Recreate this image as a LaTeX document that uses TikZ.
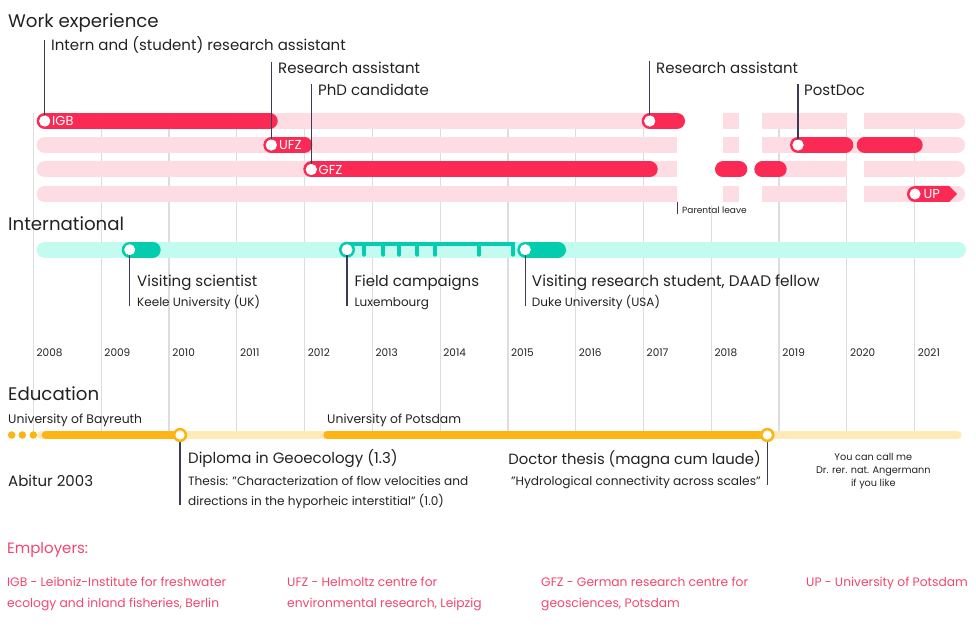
\documentclass[tikz,border=0pt]{standalone}
\usepackage{fontspec}
\setmainfont{Poppins}
\definecolor{wkdark}{RGB}{251,42,85}
\definecolor{wklight}{RGB}{253,221,227}
\definecolor{intdark}{RGB}{4,204,174}
\definecolor{intlight}{RGB}{196,251,240}
\definecolor{edudark}{RGB}{253,181,21}
\definecolor{edulight}{RGB}{255,235,184}
\definecolor{gridc}{RGB}{221,221,221}
\definecolor{tickc}{RGB}{60,59,86}
\definecolor{txt}{RGB}{34,34,34}
\definecolor{footc}{RGB}{242,70,110}
\begin{document}
\begin{tikzpicture}[x=1pt,y=-1pt,
  gridline/.style={draw=gridc,line width=1.2pt},
  wbar/.style={line width=16pt,line cap=round},
  ebar/.style={line width=8pt,line cap=round},
  tickline/.style={draw=tickc,line width=1.3pt},
  title/.style={anchor=base west,inner sep=0,text=txt,font=\fontsize{18.2}{21}\selectfont},
  lab/.style={anchor=base west,inner sep=0,text=txt,font=\fontsize{15}{17}\selectfont},
  sublab/.style={anchor=base west,inner sep=0,text=txt,font=\fontsize{12}{14}\selectfont},
  yearlab/.style={anchor=base west,inner sep=0,text=txt,font=\fontsize{10.5}{12}\selectfont},
  inlab/.style={anchor=base west,inner sep=0,text=white,font=\fontsize{13}{15}\selectfont},
  footlab/.style={anchor=base west,inner sep=0,text=footc,font=\fontsize{12.3}{14}\selectfont},
  dot/.style={circle,fill=white,inner sep=0,minimum size=11pt}
]
\useasboundingbox (0,0) rectangle (976,628);
% grid lines and year labels
\foreach \yr [count=\i from 0] in {2008,...,2021}{
  \pgfmathsetmacro{\gx}{33.5+67.78*\i}
  \ifnum\yr=2018
    \draw[gridline] (\gx,205) -- (\gx,435);
  \else
    \draw[gridline] (\gx,113) -- (\gx,435);
  \fi
  \node[yearlab] (y\yr) at (\gx+3,356) {\yr};
}
% ---------------- Work experience ----------------
\node[title] (tw) at (8,27.3) {Work experience};
\foreach \ry in {121,145,169.5,194}{
  \draw[wklight,wbar] (44.7,\ry) -- (957,\ry);
}
% parental leave gaps
\fill[white] (676.7,110) rectangle (722.7,204);
\fill[white] (739.3,110) rectangle (762.3,204);
\foreach \ry in {121,169.5,194}{
  \fill[white] (846.7,\ry-8.5) rectangle (864,\ry+8.5);
}
% dark bars
\draw[wkdark,wbar] (44.7,121) -- (269.7,121);
\draw[wkdark,wbar] (271.3,145) -- (304.3,145);
\draw[wkdark,wbar] (311.3,169.5) -- (649.7,169.5);
\draw[wkdark,wbar] (649.7,121) -- (677,121);
\draw[wkdark,wbar] (798,145) -- (845.3,145);
\draw[wkdark,wbar] (864.7,145) -- (914.7,145);
\draw[wkdark,wbar] (723,169.5) -- (739.3,169.5);
\draw[wkdark,wbar] (762.3,169.5) -- (778.7,169.5);
\fill[wkdark] (915,186) -- (949,186) -- (957,194) -- (949,202) -- (915,202) arc[start angle=90,end angle=270,radius=8] -- cycle;
% dots
\node[dot] (dIGB) at (44.7,121) {};
\node[dot] (dUFZ) at (271.3,145) {};
\node[dot] (dGFZ) at (311.3,169.5) {};
\node[dot] (dRA) at (649.7,121) {};
\node[dot] (dPD) at (798,145) {};
\node[dot] (dUP) at (915,194) {};
\node[inlab] (nIGB) at (52,126) {IGB};
\node[inlab] (nUFZ) at (279,150) {UFZ};
\node[inlab] (nGFZ) at (318.5,174.5) {GFZ};
\node[inlab] (nUP) at (923.5,199) {UP};
% labels and ticks
\coordinate (tIntern) at (44.7,40);
\coordinate (tRA1) at (271.3,61.7);
\coordinate (tPhD) at (311.3,84);
\coordinate (tRA2) at (649.7,61);
\coordinate (tPD) at (798,84);
\draw[tickline] (tIntern) -- (dIGB.center);
\draw[tickline] (tRA1) -- (dUFZ.center);
\draw[tickline] (tPhD) -- (dGFZ.center);
\draw[tickline] (tRA2) -- (dRA.center);
\draw[tickline] (tPD) -- (dPD.center);
\node[dot] at (44.7,121) {};
\node[dot] at (271.3,145) {};
\node[dot] at (311.3,169.5) {};
\node[dot] at (649.7,121) {};
\node[dot] at (798,145) {};
\node[lab] (lIntern) at (51,51) {Intern and (student) research assistant};
\node[lab] (lRA1) at (278,73.3) {Research assistant};
\node[lab] (lPhD) at (318,95.7) {PhD candidate};
\node[lab] (lRA2) at (656,73.3) {Research assistant};
\node[lab] (lPD) at (804,95.7) {PostDoc};
% parental leave
\coordinate (pl1) at (677.3,201.7);
\coordinate (pl2) at (677.3,214.3);
\draw[draw=tickc,line width=0.9pt] (pl1) -- (pl2);
\node[anchor=base west,inner sep=0,text=txt,font=\fontsize{9}{10}\selectfont] (lPL) at (682,214) {Parental leave};
% ---------------- International ----------------
\node[title] (ti) at (8,231) {International};
\draw[intlight,wbar] (44.7,249.7) -- (958,249.7);
\draw[intdark,wbar] (129.7,249.7) -- (152.7,249.7);
\draw[intdark,wbar] (525.3,249.7) -- (558,249.7);
% field campaigns
\draw[intdark,line width=4pt,line join=miter,line cap=round] (347,243.7) -- (513,243.7) -- (513,254.7);
\foreach \fx in {364.3,383.3,399.3,417.3,435,479}{
  \draw[intdark,line width=4pt,line cap=round] (\fx,243.7) -- (\fx,254.7);
}
\fill[intdark] (347,249.7) circle[radius=8];
\coordinate (dVS) at (129.7,249.7);
\coordinate (dFC) at (347,249.7);
\coordinate (dDK) at (525.3,249.7);
\coordinate (bVS) at (129.7,306);
\coordinate (bFC) at (347,306);
\coordinate (bDK) at (525.3,306);
\draw[tickline] (dVS) -- (bVS);
\draw[tickline] (dFC) -- (bFC);
\draw[tickline] (dDK) -- (bDK);
\node[dot] at (dVS) {};
\node[dot] at (dFC) {};
\node[dot] at (dDK) {};
\node[lab] (lVS) at (137,286.7) {Visiting scientist};
\node[sublab] (sVS) at (137,306.7) {Keele University (UK)};
\node[lab] (lFC) at (354.3,286.7) {Field campaigns};
\node[sublab] (sFC) at (354.3,306.7) {Luxembourg};
\node[lab,font=\fontsize{15.3}{17}\selectfont] (lDK) at (531.7,286.7) {Visiting research student, DAAD fellow};
\node[sublab] (sDK) at (531.7,306.7) {Duke University (USA)};
% ---------------- Education ----------------
\node[title] (te) at (8,400) {Education};
\node[sublab,font=\fontsize{12.4}{14}\selectfont] (uB) at (8,423.3) {University of Bayreuth};
\node[sublab,font=\fontsize{12.4}{14}\selectfont] (uP) at (327,423.3) {University of Potsdam};
\draw[edulight,ebar] (41,435) -- (957.7,435);
\foreach \ex in {11.7,22.3,33.3}{
  \fill[edudark] (\ex,435) circle[radius=3.8];
}
\draw[edudark,ebar] (45.7,435) -- (180,435);
\draw[edudark,ebar] (327.3,435) -- (767.3,435);
\coordinate (rD) at (180,435);
\coordinate (rT) at (767.3,435);
\coordinate (bD) at (180,505);
\coordinate (bT) at (767.3,485);
\draw[tickline] (rD) -- (bD);
\draw[tickline] (rT) -- (bT);
\fill[edudark] (rD) circle[radius=7.2];
\fill[white] (rD) circle[radius=4.6];
\fill[edudark] (rT) circle[radius=7.2];
\fill[white] (rT) circle[radius=4.6];
\node[lab] (abi) at (8,486) {Abitur 2003};
\node[lab] (dip) at (188,463.3) {Diploma in Geoecology (1.3)};
\node[sublab,font=\fontsize{12.1}{14}\selectfont] (dip1) at (188,485) {Thesis: "Characterization of flow velocities and};
\node[sublab,font=\fontsize{12.1}{14}\selectfont] (dip2) at (188,505) {directions in the hyporheic interstitial" (1.0)};
\node[lab,anchor=base east,font=\fontsize{14.8}{17}\selectfont] (doc) at (761,464) {Doctor thesis (magna cum laude)};
\node[sublab,anchor=base east,font=\fontsize{12.2}{14}\selectfont] (doc1) at (761,485) {"Hydrological connectivity across scales"};
\node[anchor=base,inner sep=0,text=txt,font=\fontsize{9.7}{11}\selectfont] (n1) at (873.3,460) {You can call me};
\node[anchor=base,inner sep=0,text=txt,font=\fontsize{9.7}{11}\selectfont] (n2) at (873.3,473.3) {Dr. rer. nat. Angermann};
\node[anchor=base,inner sep=0,text=txt,font=\fontsize{9.7}{11}\selectfont] (n3) at (873.3,486) {if you like};
% ---------------- Footer ----------------
\node[footlab,font=\fontsize{15}{17}\selectfont] (emp) at (7,553) {Employers:};
\node[footlab] (f1a) at (7,586.5) {IGB - Leibniz-Institute for freshwater};
\node[footlab] (f1b) at (7,607) {ecology and inland fisheries, Berlin};
\node[footlab] (f2a) at (287,586.5) {UFZ - Helmoltz centre for};
\node[footlab] (f2b) at (287,607) {environmental research, Leipzig};
\node[footlab] (f3a) at (541,586.5) {GFZ - German research centre for};
\node[footlab] (f3b) at (541,607) {geosciences, Potsdam};
\node[footlab] (f4a) at (806,586.5) {UP - University of Potsdam};
\end{tikzpicture}
\end{document}
